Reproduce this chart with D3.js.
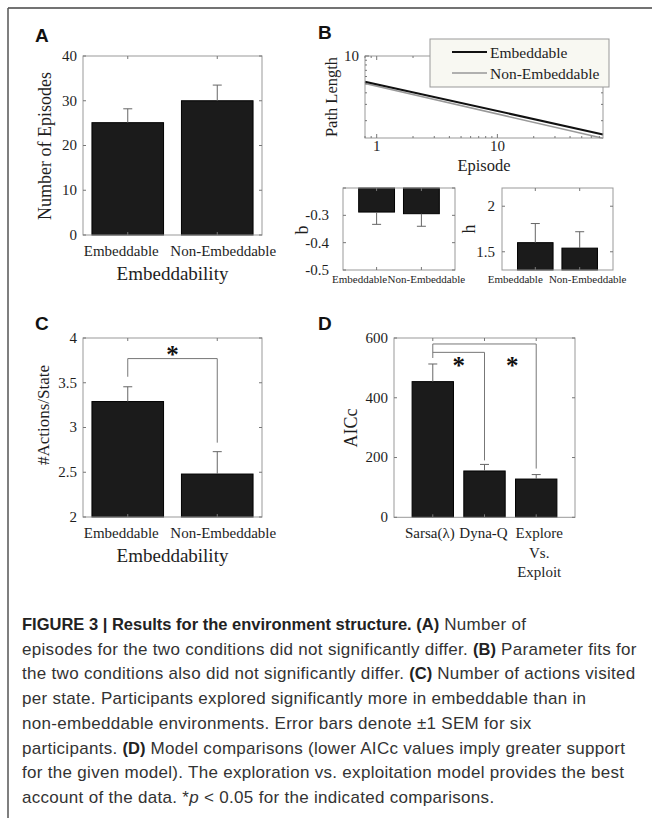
<!DOCTYPE html>
<html>
<head>
<meta charset="utf-8">
<title>Figure 3</title>
<style>
	body { margin: 0; background: #fff; }
	svg text { font-family: "Liberation Serif", "Times New Roman", serif; fill: #1e1e1e; }
	svg text.lbl { font-family: "Liberation Sans", Arial, sans-serif; font-weight: bold; font-size: 19px; fill: #111; }
	svg text.cap { font-family: "Liberation Sans", Arial, sans-serif; font-size: 17px; letter-spacing: 0.3px; fill: #333; }
</style>
</head>
<body>
<svg id="fig" width="652" height="818"></svg>
<script src="https://d3js.org/d3.v7.min.js"></script>
<script>

// ---- data ----
var conditions = ["Embeddable", "Non-Embeddable"]

var episodesMean = [25.1, 30.0]      // panel A
var episodesSem = [3.1, 3.5]

var pathEpisodes = [0.8, 75]         // panel B, fitted power law (straight on log-log)
var pathEmbeddable = [5.28, 1.42]
var pathNonEmbeddable = [5.04, 1.29]

var bMean = [-0.288, -0.294]         // panel B, exponent b
var bSem = [0.045, 0.046]
var hMean = [1.60, 1.54]             // panel B, intercept h
var hSem = [0.21, 0.18]

var actionsMean = [3.29, 2.48]       // panel C
var actionsSem = [0.165, 0.25]

var models = ["Sarsa(λ)", "Dyna-Q", "Explore Vs. Exploit"]   // panel D
var aicMean = [454, 155, 128]
var aicSem = [59, 22, 15]

var ticksA = [0, 10, 20, 30, 40]
var ticksC = [2, 2.5, 3, 3.5, 4]
var ticksD = [0, 200, 400, 600]
var ticksB = [-0.5, -0.4, -0.3, -0.2]
var ticksH = [1.5, 2]

var caption = [
	[["FIGURE 3 | Results for the environment structure. (A)", true], [" Number of", false]],
	[["episodes for the two conditions did not significantly differ. ", false], ["(B)", true], [" Parameter fits for", false]],
	[["the two conditions also did not significantly differ. ", false], ["(C)", true], [" Number of actions visited", false]],
	[["per state. Participants explored significantly more in embeddable than in", false]],
	[["non-embeddable environments. Error bars denote ±1 SEM for six", false]],
	[["participants. ", false], ["(D)", true], [" Model comparisons (lower AICc values imply greater support", false]],
	[["for the given model). The exploration vs. exploitation model provides the best", false]],
	[["account of the data. *", false], ["p", "i"], [" < 0.05 for the indicated comparisons.", false]]
]

let svg = d3.select('#fig')

// frame (top and left rules only)
svg.append('line').attr('x1', 8).attr('x2', 652).attr('y1', 8).attr('y2', 8)
	.attr('stroke', '#444').attr('stroke-width', 1.5)
svg.append('line').attr('x1', 8).attr('x2', 8).attr('y1', 8).attr('y2', 818)
	.attr('stroke', '#555').attr('stroke-width', 1.5)

const boxCol = '#999'
const tickCol = '#777'

// generic MATLAB-ish bar panel
function barPanel(o) {
	let g = svg.append('g')
	let n = o.mean.length
	let x = d3.scaleLinear().domain(o.xd).range(o.xr)
	let y = d3.scaleLinear().domain(o.yd).range(o.yr)
	let bw = x(1.4) - x(0.6)
	let idx = d3.range(n)

	// bars
	g.selectAll('rect.bar').data(idx).enter().append('rect')
		.attr('class', 'bar')
		.attr('x', i => x(i + 1) - bw / 2)
		.attr('width', bw)
		.attr('y', i => Math.min(y(o.mean[i]), y(o.base)))
		.attr('height', i => Math.abs(y(o.mean[i]) - y(o.base)))
		.attr('fill', '#1b1b1b')
		.attr('stroke', '#000')

	// error bars (one-sided, away from base)
	let dir = o.down ? -1 : 1
	g.selectAll('line.err').data(idx).enter().append('line')
		.attr('x1', i => x(i + 1)).attr('x2', i => x(i + 1))
		.attr('y1', i => y(o.mean[i])).attr('y2', i => y(o.mean[i] + dir * o.sem[i]))
		.attr('stroke', '#666')
	g.selectAll('line.cap').data(idx).enter().append('line')
		.attr('x1', i => x(i + 1) - 4.5).attr('x2', i => x(i + 1) + 4.5)
		.attr('y1', i => y(o.mean[i] + dir * o.sem[i])).attr('y2', i => y(o.mean[i] + dir * o.sem[i]))
		.attr('stroke', '#666')

	// box
	g.append('rect')
		.attr('x', o.xr[0]).attr('y', o.yr[1])
		.attr('width', o.xr[1] - o.xr[0]).attr('height', o.yr[0] - o.yr[1])
		.attr('fill', 'none').attr('stroke', boxCol)

	// y ticks both sides
	for (let t of o.yticks) {
		g.append('line').attr('x1', o.xr[0]).attr('x2', o.xr[0] + 3).attr('y1', y(t)).attr('y2', y(t)).attr('stroke', tickCol)
		g.append('line').attr('x1', o.xr[1]).attr('x2', o.xr[1] - 3).attr('y1', y(t)).attr('y2', y(t)).attr('stroke', tickCol)
		if (o.hide && o.hide.includes(t)) continue
		g.append('text')
			.attr('x', o.xr[0] - o.gap).attr('y', y(t) + o.fs * 0.33)
			.attr('text-anchor', 'end').style('font-size', o.fs + 'px')
			.text(t)
	}
	// x ticks top and bottom
	for (let i of idx) {
		g.append('line').attr('x1', x(i + 1)).attr('x2', x(i + 1)).attr('y1', o.yr[0]).attr('y2', o.yr[0] - 3).attr('stroke', tickCol)
		g.append('line').attr('x1', x(i + 1)).attr('x2', x(i + 1)).attr('y1', o.yr[1]).attr('y2', o.yr[1] + 3).attr('stroke', tickCol)
		let words = o.split ? o.cats[i].split(' ') : [o.cats[i]]
		let dx = o.catDx ? o.catDx[i] : 0
		words.forEach((w, k) => {
			g.append('text')
				.attr('x', x(i + 1) + dx).attr('y', o.catY + k * 19.5)
				.attr('text-anchor', 'middle').style('font-size', o.catFs + 'px')
				.text(w)
		})
	}

	// y label
	g.append('text')
		.attr('transform', 'translate(' + o.ylab[1] + ',' + o.ylab[2] + ') rotate(-90)')
		.attr('text-anchor', 'middle').style('font-size', o.ylab[3] + 'px')
		.text(o.ylab[0])

	if (o.xlab) {
		g.append('text')
			.attr('x', (o.xr[0] + o.xr[1]) / 2).attr('y', o.xlab[1])
			.attr('text-anchor', 'middle').style('font-size', '19px')
			.text(o.xlab[0])
	}
	return {x: x, y: y, g: g}
}

// significance bracket: from bar a to bar b at level
function bracket(p, a, b, level, ya, yb) {
	let path = d3.path()
	path.moveTo(p.x(a + 1), ya)
	path.lineTo(p.x(a + 1), p.y(level))
	path.lineTo(p.x(b + 1), p.y(level))
	path.lineTo(p.x(b + 1), yb)
	p.g.append('path').attr('d', path.toString())
		.attr('fill', 'none').attr('stroke', '#777')
}
function star(p, xm, yb) {
	p.g.append('text').attr('x', xm).attr('y', yb)
		.attr('text-anchor', 'middle')
		.style('font-size', '25px').style('font-weight', 'bold').style('fill', '#111')
		.text('*')
}

// ---- A ----
barPanel({xr: [83, 262], xd: [0.5, 2.5], yr: [235, 56], yd: [0, 40], base: 0,
	mean: episodesMean, sem: episodesSem, yticks: ticksA, gap: 6, fs: 15,
	cats: conditions, catY: 256, catFs: 15, catDx: [-6.5, 6],
	ylab: ['Number of Episodes', 51, 146, 18], xlab: ['Embeddability', 280]})

// ---- C ----
let pC = barPanel({xr: [83, 262], xd: [0.5, 2.5], yr: [517, 338], yd: [2, 4], base: 2,
	mean: actionsMean, sem: actionsSem, yticks: ticksC, gap: 6, fs: 15,
	cats: conditions, catY: 538, catFs: 15, catDx: [-6.5, 6],
	ylab: ['#Actions/State', 49, 415, 17], xlab: ['Embeddability', 562]})
bracket(pC, 0, 1, 3.77,
	pC.y(actionsMean[0] + actionsSem[0]) - 10, pC.y(actionsMean[1] + actionsSem[1]) - 9)
star(pC, (pC.x(1) + pC.x(2)) / 2, 363)

// ---- D ----
let pD = barPanel({xr: [394, 575], xd: [0.25, 3.75], yr: [517.3, 338], yd: [0, 600], base: 0,
	mean: aicMean, sem: aicSem, yticks: ticksD, gap: 6, fs: 15,
	cats: models, catY: 538, catFs: 15, split: true, catDx: [-3, -1, 3],
	ylab: ['AICc', 357, 428, 18]})
bracket(pD, 0, 2, 580, pD.y(aicMean[0] + aicSem[0]) - 6, pD.y(aicMean[2] + aicSem[2]) - 6)
bracket(pD, 0, 1, 552, pD.y(552), pD.y(aicMean[1] + aicSem[1]) - 4)
star(pD, (pD.x(1) + pD.x(2)) / 2, 374)
star(pD, (pD.x(2) + pD.x(3)) / 2 + 2, 374)

// ---- B: b and h ----
barPanel({xr: [343, 455], xd: [0.25, 2.75], yr: [270, 188], yd: [-0.5, -0.2], base: -0.2, down: true,
	mean: bMean, sem: bSem, yticks: ticksB, hide: [-0.2], gap: 14, fs: 15,
	cats: conditions, catY: 283, catFs: 11, catDx: [-17, 5],
	ylab: ['b', 308, 230, 18]})
barPanel({xr: [502, 613], xd: [0.25, 2.75], yr: [270, 188], yd: [1.3, 2.2], base: 1.3,
	mean: hMean, sem: hSem, yticks: ticksH, gap: 7, fs: 15,
	cats: conditions, catY: 283, catFs: 11, catDx: [-20, 8],
	ylab: ['h', 475, 229, 18]})

// ---- B: path length (log-log) ----
{
	let xr = [365, 603], yr = [138, 56]
	let x = d3.scaleLog().domain([0.8, 75]).range(xr)
	let y = d3.scaleLog().domain([1.3, 10]).range(yr)
	let g = svg.append('g')

	let line = d3.line().x(d => x(d[0])).y(d => y(d[1]))
	g.append('path').datum(d3.zip(pathEpisodes, pathNonEmbeddable))
		.attr('d', line).attr('fill', 'none').attr('stroke', '#999').attr('stroke-width', 1.6)
	g.append('path').datum(d3.zip(pathEpisodes, pathEmbeddable))
		.attr('d', line).attr('fill', 'none').attr('stroke', '#111').attr('stroke-width', 2)

	g.append('rect').attr('x', xr[0]).attr('y', yr[1])
		.attr('width', xr[1] - xr[0]).attr('height', yr[0] - yr[1])
		.attr('fill', 'none').attr('stroke', boxCol)

	for (let t of x.ticks()) {
		let major = (t === 1 || t === 10)
		let len = major ? 4 : 2
		g.append('line').attr('x1', x(t)).attr('x2', x(t)).attr('y1', yr[0]).attr('y2', yr[0] - len).attr('stroke', tickCol)
		g.append('line').attr('x1', x(t)).attr('x2', x(t)).attr('y1', yr[1]).attr('y2', yr[1] + len).attr('stroke', tickCol)
		if (major) g.append('text').attr('x', x(t)).attr('y', 151)
			.attr('text-anchor', 'middle').style('font-size', '15px').text(t)
	}
	for (let t of y.ticks()) {
		let major = (t === 10)
		let len = major ? 4 : 2
		g.append('line').attr('x1', xr[0]).attr('x2', xr[0] + len).attr('y1', y(t)).attr('y2', y(t)).attr('stroke', tickCol)
		g.append('line').attr('x1', xr[1]).attr('x2', xr[1] - len).attr('y1', y(t)).attr('y2', y(t)).attr('stroke', tickCol)
		if (major) g.append('text').attr('x', xr[0] - 6).attr('y', y(t) + 5)
			.attr('text-anchor', 'end').style('font-size', '15px').text(t)
	}
	g.append('text').attr('x', 484).attr('y', 171).attr('text-anchor', 'middle')
		.style('font-size', '16.5px').text('Episode')
	g.append('text').attr('transform', 'translate(337,97) rotate(-90)')
		.attr('text-anchor', 'middle').style('font-size', '16.5px').text('Path Length')

	// legend
	let lg = g.append('g')
	lg.append('rect').attr('x', 430).attr('y', 39).attr('width', 179).attr('height', 48)
		.attr('fill', '#f8f8f2').attr('stroke', '#999')
	let leg = [['Embeddable', '#111', 2, 52], ['Non-Embeddable', '#999', 1.6, 73]]
	for (let L of leg) {
		lg.append('line').attr('x1', 452).attr('x2', 487).attr('y1', L[3]).attr('y2', L[3])
			.attr('stroke', L[1]).attr('stroke-width', L[2])
		lg.append('text').attr('x', 490).attr('y', L[3] + 5.5).style('font-size', '15.5px').text(L[0])
	}
}

// panel letters
for (let L of [['A', 35, 42], ['B', 318, 39], ['C', 35, 330], ['D', 318, 330]]) {
	svg.append('text').attr('class', 'lbl').attr('x', L[1]).attr('y', L[2]).text(L[0])
}

// caption
caption.forEach((parts, k) => {
	let t = svg.append('text').attr('class', 'cap').attr('x', 22).attr('y', 630 + k * 24.7)
	for (let p of parts) {
		let s = t.append('tspan').text(p[0])
		if (p[1] === true) s.style('font-weight', 'bold').style('fill', '#222')
			.style('font-size', '16.5px').style('letter-spacing', '0px')
		if (p[1] === 'i') s.style('font-style', 'italic')
	}
})

</script>
</body>
</html>
